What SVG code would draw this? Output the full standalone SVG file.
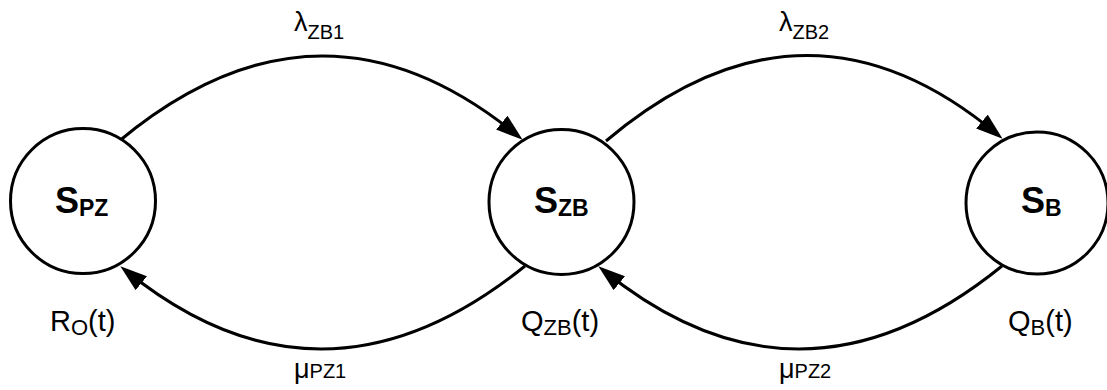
<svg xmlns="http://www.w3.org/2000/svg" width="1107" height="390" viewBox="0 0 1107 390">
<style>
.node{fill:#fff;stroke:#000;stroke-width:3}
.edge{fill:none;stroke:#000;stroke-width:3}
.big{font-family:"Liberation Sans",Arial,sans-serif;font-weight:bold;font-size:36px;fill:#000}
.bsub{font-size:23px}
.lab{font-family:"Liberation Sans",Arial,sans-serif;font-size:29px;fill:#000}
.lsub{font-size:22px}
.gr{font-family:"Liberation Sans",Arial,sans-serif;font-size:27px;fill:#000}
.gsub{font-size:20px}
</style>
<defs>
<marker id="arr" markerUnits="userSpaceOnUse" markerWidth="27" markerHeight="18" refX="21" refY="9" orient="auto">
<path d="M0,0 L27,9 L0,18 z" fill="#000"/>
</marker>
</defs>
<g id="connectors">
<path class="edge" d="M118,142 Q320,-27 518,136" marker-end="url(#arr)"/>
<path class="edge" d="M525,266 Q322,430 125,270" marker-end="url(#arr)"/>
<path class="edge" d="M606,141 Q805,-27 998,135" marker-end="url(#arr)"/>
<path class="edge" d="M1002,266 Q800,430 603,270" marker-end="url(#arr)"/>
</g>
<g id="edge-labels">
<text class="gr" x="294" y="31">λ<tspan class="gsub" dy="8">ZB1</tspan></text>
<text class="gr" x="779" y="31">λ<tspan class="gsub" dy="8">ZB2</tspan></text>
<text class="gr" x="294" y="378">μ<tspan class="gsub">PZ1</tspan></text>
<text class="gr" x="779" y="378">μ<tspan class="gsub">PZ2</tspan></text>
</g>
<g id="SPZ">
<circle class="node" cx="83" cy="201" r="72.5"/>
<text class="big" x="55" y="213">S<tspan class="bsub" dy="3">PZ</tspan></text>
<text class="lab" x="50" y="331">R<tspan class="lsub" dy="4">O</tspan><tspan dy="-4">(t)</tspan></text>
</g>
<g id="SZB">
<circle class="node" cx="561.5" cy="202" r="72.5"/>
<text class="big" x="534" y="213">S<tspan class="bsub" dy="3">ZB</tspan></text>
<text class="lab" x="521" y="331">Q<tspan class="lsub" dy="4">ZB</tspan><tspan dy="-4">(t)</tspan></text>
</g>
<g id="SB">
<circle class="node" cx="1037" cy="203" r="71"/>
<text class="big" x="1021" y="213">S<tspan class="bsub" dy="3">B</tspan></text>
<text class="lab" x="1008" y="331">Q<tspan class="lsub" dy="4">B</tspan><tspan dy="-4">(t)</tspan></text>
</g>
</svg>
